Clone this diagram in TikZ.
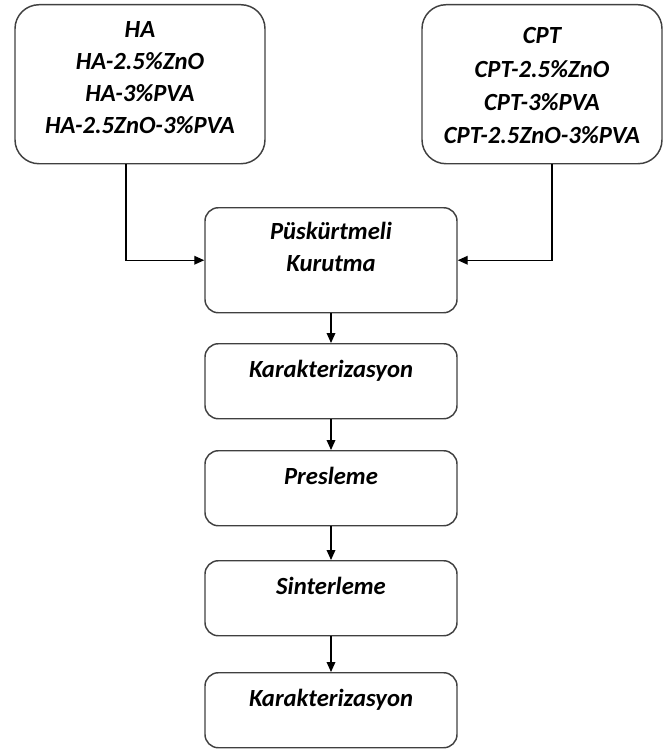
\documentclass[tikz,border=0pt]{standalone}
\usepackage{fontspec}
\setmainfont{Carlito}
\usetikzlibrary{arrows.meta,positioning}

\begin{document}
\begin{tikzpicture}[x=0.75pt, y=-0.75pt,
    srcbox/.style={draw=black!75, line width=1.1pt, rounded corners=18pt,
        align=center, inner sep=0pt, anchor=north,
        font=\fontsize{18.5}{24}\selectfont\bfseries\itshape},
    stepbox/.style={draw=black!75, line width=1.1pt, rounded corners=10pt,
        inner sep=0pt, anchor=north, minimum width=189pt,
        text height=25.5pt, text depth=30.75pt,
        font=\fontsize{18.5}{24.5}\selectfont\bfseries\itshape},
    arr/.style={-{Triangle[length=7.5pt,width=6.5pt]}, line width=1pt}
]
    \useasboundingbox (0,0) rectangle (664,749);

    % starting powders
    \node[srcbox, minimum width=187.5pt, text height=96.75pt, text depth=22.5pt] (ha) at (140,4)
        {HA\\HA-2.5\%ZnO\\HA-3\%PVA\\HA-2.5ZnO-3\%PVA};
    \node[srcbox, minimum width=180pt, text height=104.25pt, text depth=15pt] (cpt) at (542,4)
        {CPT\\[1pt]CPT-2.5\%ZnO\\[1pt]CPT-3\%PVA\\[1pt]CPT-2.5ZnO-3\%PVA};

    % process steps
    \node[stepbox, text height=48pt, text depth=30.75pt, align=center] (spray) at (331,207)
        {Püskürtmeli\\Kurutma};
    \node[stepbox] (kar1) at (331,343) {Karakterizasyon};
    \node[stepbox] (pres) at (331,450) {Presleme};
    \node[stepbox] (sint) at (331,560) {Sinterleme};
    \node[stepbox] (kar2) at (331,672) {Karakterizasyon};

    \draw[arr] ([xshift=-10.5pt]ha.south) |- (spray.west);
    \draw[arr] ([xshift=7.5pt]cpt.south) |- (spray.east);
    \draw[arr] (spray) -- (kar1);
    \draw[arr] (kar1) -- (pres);
    \draw[arr] (pres) -- (sint);
    \draw[arr] (sint) -- (kar2);
\end{tikzpicture}
\end{document}
